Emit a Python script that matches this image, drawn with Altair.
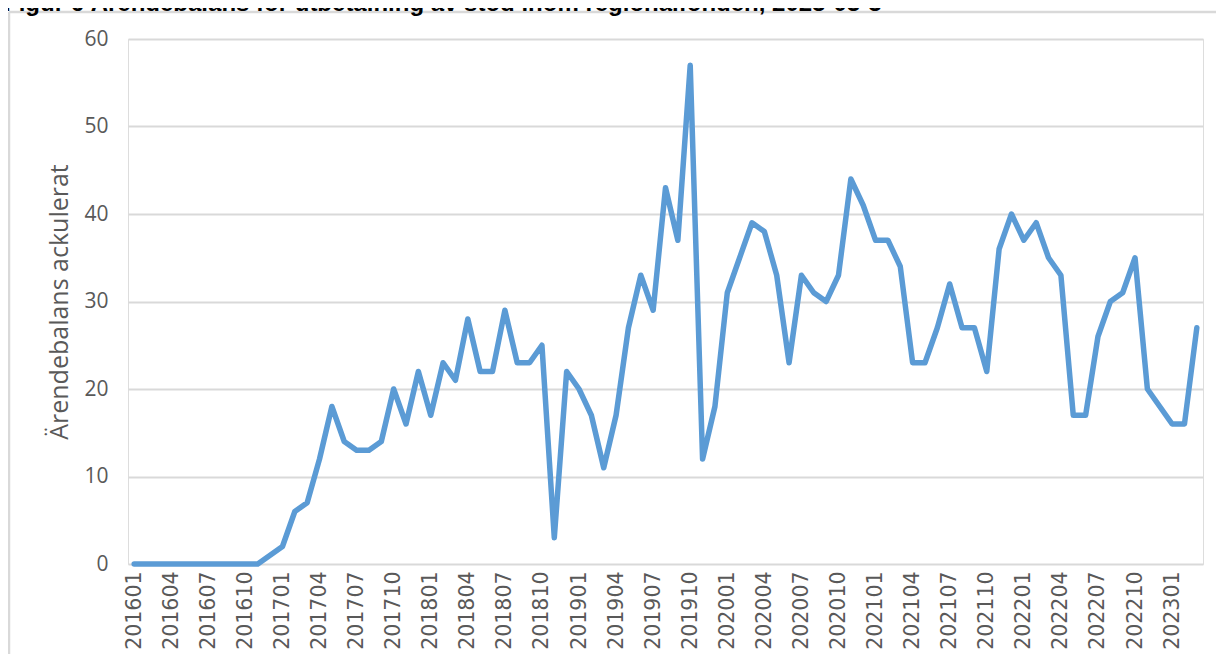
import altair as alt
import pandas as pd

# ---- data ----
months = [
    "201601", "201602", "201603", "201604", "201605", "201606", "201607", "201608", "201609", "201610", "201611", "201612",
    "201701", "201702", "201703", "201704", "201705", "201706", "201707", "201708", "201709", "201710", "201711", "201712",
    "201801", "201802", "201803", "201804", "201805", "201806", "201807", "201808", "201809", "201810", "201811", "201812",
    "201901", "201902", "201903", "201904", "201905", "201906", "201907", "201908", "201909", "201910", "201911", "201912",
    "202001", "202002", "202003", "202004", "202005", "202006", "202007", "202008", "202009", "202010", "202011", "202012",
    "202101", "202102", "202103", "202104", "202105", "202106", "202107", "202108", "202109", "202110", "202111", "202112",
    "202201", "202202", "202203", "202204", "202205", "202206", "202207", "202208", "202209", "202210", "202211", "202212",
    "202301", "202302", "202303",
]
values = [
    0, 0, 0, 0, 0, 0, 0, 0, 0, 0, 0, 1,
    2, 6, 7, 12, 18, 14, 13, 13, 14, 20, 16, 22,
    17, 23, 21, 28, 22, 22, 29, 23, 23, 25, 3, 22,
    20, 17, 11, 17, 27, 33, 29, 43, 37, 57, 12, 18,
    31, 35, 39, 38, 33, 23, 33, 31, 30, 33, 44, 41,
    37, 37, 34, 23, 23, 27, 32, 27, 27, 22, 36, 40,
    37, 39, 35, 33, 17, 17, 26, 30, 31, 35, 20, 18,
    16, 16, 27,
]
tick_labels = [
    "201601", "201604", "201607", "201610", "201701", "201704", "201707", "201710",
    "201801", "201804", "201807", "201810", "201901", "201904", "201907", "201910",
    "202001", "202004", "202007", "202010", "202101", "202104", "202107", "202110",
    "202201", "202204", "202207", "202210", "202301",
]
y_ticks = [0, 10, 20, 30, 40, 50, 60]
title_text = "Figur 6 Ärendebalans för utbetalning av stöd inom regionalfonden, 2023-03-3"
y_title = "Ärendebalans ackulerat"

df = pd.DataFrame({"month": months, "value": values})

W, H = 1075, 525
PAD_L, PAD_T, PAD_R, PAD_B = 120, 31, 13, 90

GRAY_TXT = "#595959"
GRID = "#D9D9D9"

line = alt.Chart(df).mark_line(
    color="#5B9BD5", strokeWidth=5.5, strokeJoin="round", strokeCap="round"
).encode(
    x=alt.X(
        "month:O",
        sort=None,
        scale=alt.Scale(type="point", padding=0.5),
        axis=alt.Axis(
            values=tick_labels,
            labelAngle=-90,
            labelAlign="right",
            labelBaseline="middle",
            labelFont="DejaVu Sans",
            labelFontSize=20.5,
            labelColor=GRAY_TXT,
            labelPadding=7,
            ticks=False,
            domain=False,
            grid=False,
            title=None,
        ),
    ),
    y=alt.Y(
        "value:Q",
        scale=alt.Scale(domain=[0, 60], nice=False),
        axis=alt.Axis(
            values=y_ticks,
            labelFont="Open Sans",
            labelFontSize=21,
            labelColor=GRAY_TXT,
            labelPadding=20,
            ticks=False,
            domain=False,
            grid=True,
            gridColor=GRID,
            gridWidth=2,
            title=y_title,
            titleFont="Open Sans",
            titleFontSize=25,
            titleFontWeight="normal",
            titleColor=GRAY_TXT,
            titlePadding=11,
        ),
    ),
)

# frame of the figure (light gray border, top and left)
frame_top = alt.Chart(pd.DataFrame({"k": [0]})).mark_rule(color=GRID, strokeWidth=2.5).encode(
    x=alt.value(-PAD_L + 1), x2=alt.value(W + PAD_R + 20), y=alt.value(-PAD_T + 4)
)
frame_left = alt.Chart(pd.DataFrame({"k": [0]})).mark_rule(color=GRID, strokeWidth=2.5).encode(
    x=alt.value(-PAD_L + 1), y=alt.value(-PAD_T + 4), y2=alt.value(H + PAD_B + 20)
)

# figure caption, cut off at the top edge as in the reference
caption = alt.Chart(pd.DataFrame({"t": [title_text]})).mark_text(
    font="Liberation Sans", fontWeight="bold", fontSize=24, color="#000000",
    align="left", baseline="alphabetic"
).encode(
    text="t:N", x=alt.value(-PAD_L - 4), y=alt.value(-PAD_T + 3)
)

chart = alt.layer(frame_top, frame_left, line, caption).properties(
    width=W,
    height=H,
    autosize=alt.AutoSizeParams(type="none"),
    padding={"left": PAD_L, "top": PAD_T, "right": PAD_R, "bottom": PAD_B},
).configure_view(stroke=None).configure(background="white")

chart.save("out.html", embed_options={"renderer": "svg", "actions": False})
